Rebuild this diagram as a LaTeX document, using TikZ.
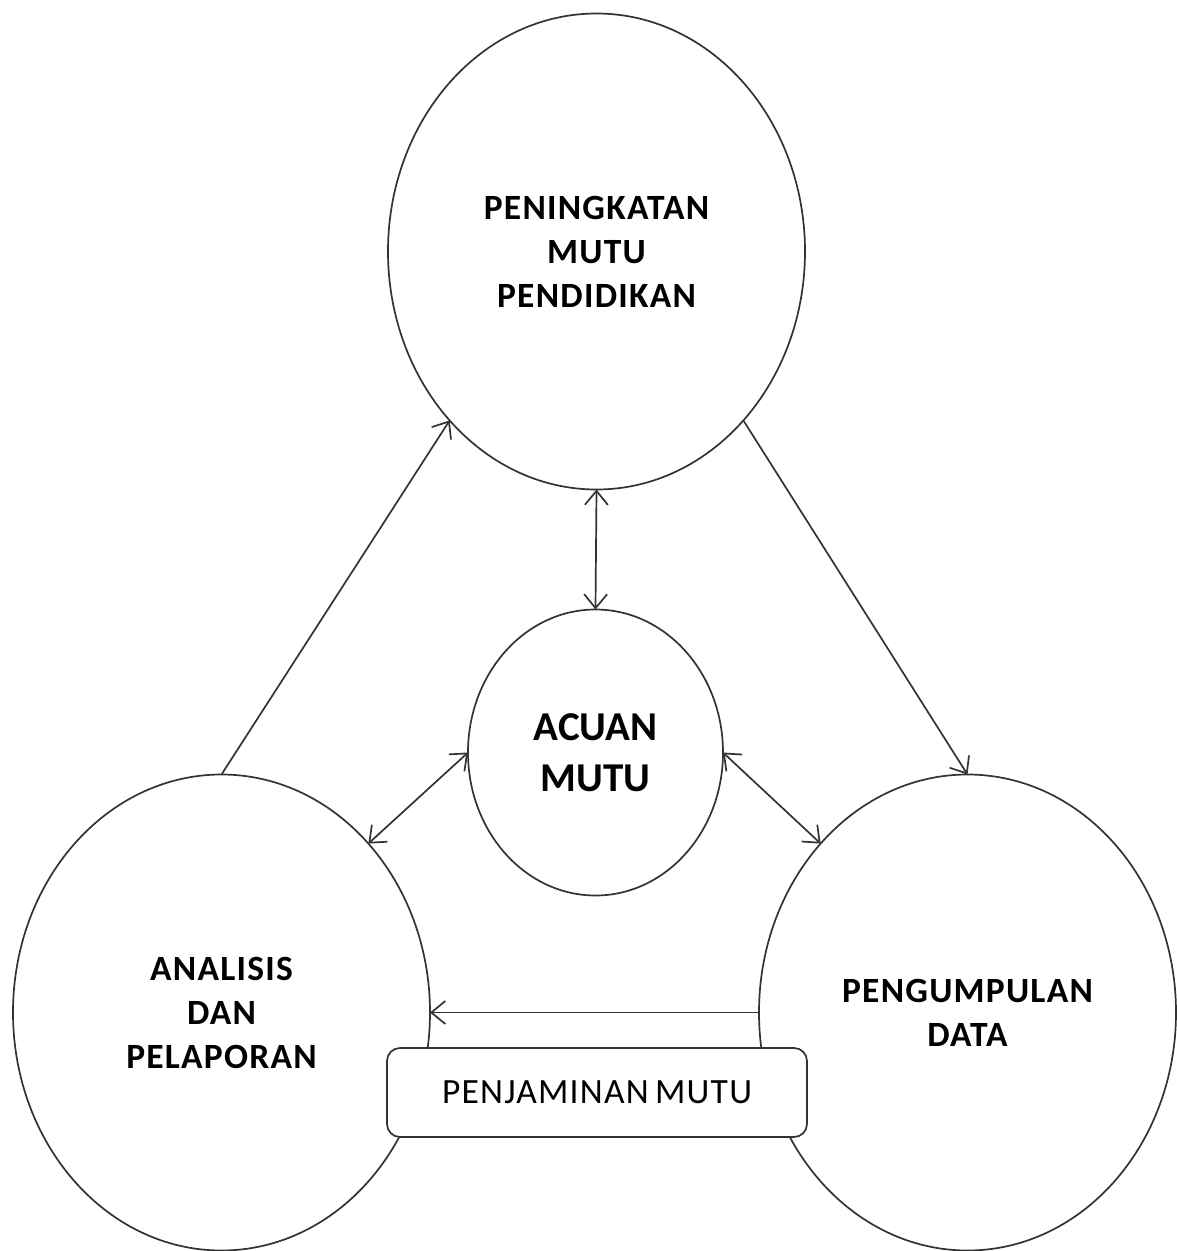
\documentclass[tikz,border=0pt]{standalone}
\usepackage{fontspec}
\setmainfont{Carlito}
\newfontfamily\wideface[LetterSpace=3.5]{Carlito}
\usetikzlibrary{shapes.geometric,arrows.meta}

\begin{document}
\begin{tikzpicture}[x=1pt,y=-1pt,
  line width=1.7pt,
  every node/.style={inner sep=0pt,outer sep=0pt},
  stage/.style={ellipse,draw=black!80,fill=white,minimum width=417pt,minimum height=476pt,
    align=center,font=\wideface\fontsize{35.5}{44}\selectfont\bfseries},
  core/.style={ellipse,draw=black!80,fill=white,minimum width=255pt,minimum height=286pt,
    align=center,font=\fontsize{41}{51}\selectfont\bfseries},
  band/.style={rectangle,rounded corners=13pt,draw=black!80,fill=white,
    minimum width=420pt,minimum height=89pt,font=\wideface\fontsize{35.5}{44}\selectfont},
  flow/.style={draw=black!80,-{Straight Barb[length=14pt,width=23pt,line width=1.7pt]}},
  link/.style={draw=black!80,{Straight Barb[length=14pt,width=23pt,line width=1.7pt]}-{Straight Barb[length=14pt,width=23pt,line width=1.7pt]}}
]
\useasboundingbox (0,0) rectangle (1177,1251);

% the four stages of the cycle
\node[stage] (top)   at (596.5,251.5)  {PENINGKATAN\\MUTU\\PENDIDIKAN};
\node[stage] (left)  at (221.5,1012.5) {ANALISIS\\DAN\\PELAPORAN};
\node[stage] (right) at (967.5,1012.5) {PENGUMPULAN\\DATA};
\node[core]  (mid)   at (595.5,752.5)  {ACUAN\\MUTU};

% cycle arrows
\draw[flow] (left.north) -- (top.229);
\draw[flow] (top.-49) -- (right.north);
\draw[flow] (right.west) -- (left.east);

% links to the reference standard
\draw[link] (top.south) -- (mid.north);
\draw[link] (left.49) -- (mid.west);
\draw[link] (mid.east) -- (right.131);

% quality assurance band across the bottom
\node[band] (qa) at (597,1092.5) {PENJAMINAN\hspace{-3pt} MUTU};
\end{tikzpicture}
\end{document}
